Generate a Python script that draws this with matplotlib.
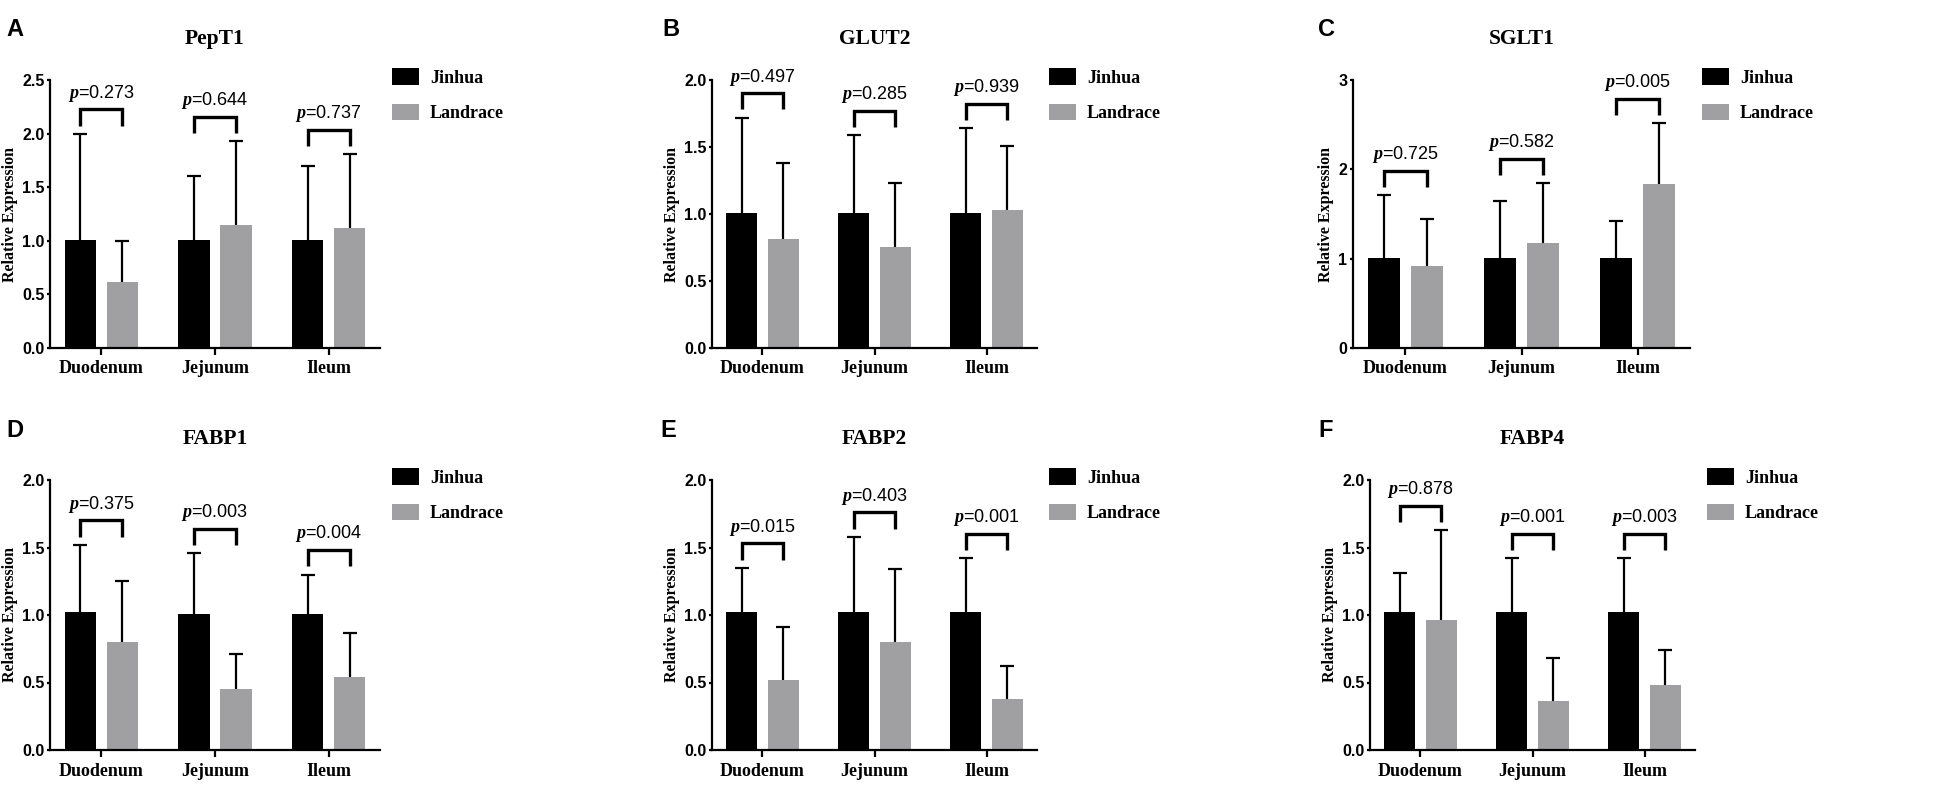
import numpy as np
import matplotlib
matplotlib.use('Agg')
import matplotlib.pyplot as plt
from matplotlib.font_manager import FontProperties, fontManager

# custom mathtext so the "p" in the annotations is a bold italic serif
matplotlib.rcParams['mathtext.fontset'] = 'custom'
matplotlib.rcParams['mathtext.it'] = 'Liberation Serif:italic:bold'

names = set(f.name for f in fontManager.ttflist)
narrow = 'Liberation Sans Narrow' if 'Liberation Sans Narrow' in names else 'Liberation Sans'
print(narrow)
matplotlib.rcParams['mathtext.rm'] = narrow

W, H = 1950, 786

sites = ["Duodenum", "Jejunum", "Ileum"]
breeds = ["Jinhua", "Landrace"]
genes = ["PepT1", "GLUT2", "SGLT1", "FABP1", "FABP2", "FABP4"]
letters = ["A", "B", "C", "D", "E", "F"]

# means and (upper) SD
pept1_jinhua = [1.01, 1.01, 1.01]
pept1_jinhua_sd = [0.99, 0.59, 0.69]
pept1_landrace = [0.62, 1.15, 1.12]
pept1_landrace_sd = [0.38, 0.78, 0.69]
pept1_p = ["0.273", "0.644", "0.737"]

glut2_jinhua = [1.01, 1.01, 1.01]
glut2_jinhua_sd = [0.71, 0.58, 0.63]
glut2_landrace = [0.81, 0.75, 1.03]
glut2_landrace_sd = [0.57, 0.48, 0.48]
glut2_p = ["0.497", "0.285", "0.939"]

sglt1_jinhua = [1.01, 1.01, 1.01]
sglt1_jinhua_sd = [0.70, 0.64, 0.41]
sglt1_landrace = [0.92, 1.18, 1.84]
sglt1_landrace_sd = [0.52, 0.67, 0.68]
sglt1_p = ["0.725", "0.582", "0.005"]

fabp1_jinhua = [1.02, 1.01, 1.01]
fabp1_jinhua_sd = [0.50, 0.45, 0.29]
fabp1_landrace = [0.80, 0.45, 0.54]
fabp1_landrace_sd = [0.45, 0.26, 0.33]
fabp1_p = ["0.375", "0.003", "0.004"]

fabp2_jinhua = [1.02, 1.02, 1.02]
fabp2_jinhua_sd = [0.33, 0.56, 0.40]
fabp2_landrace = [0.52, 0.80, 0.38]
fabp2_landrace_sd = [0.39, 0.54, 0.24]
fabp2_p = ["0.015", "0.403", "0.001"]

fabp4_jinhua = [1.02, 1.02, 1.02]
fabp4_jinhua_sd = [0.29, 0.40, 0.40]
fabp4_landrace = [0.96, 0.36, 0.48]
fabp4_landrace_sd = [0.67, 0.32, 0.26]
fabp4_p = ["0.878", "0.001", "0.003"]

y_max = [2.5, 2.0, 3, 2.0, 2.0, 2.0]
y_step = [0.5, 0.5, 1, 0.5, 0.5, 0.5]

panels = [
    (pept1_jinhua, pept1_jinhua_sd, pept1_landrace, pept1_landrace_sd, pept1_p),
    (glut2_jinhua, glut2_jinhua_sd, glut2_landrace, glut2_landrace_sd, glut2_p),
    (sglt1_jinhua, sglt1_jinhua_sd, sglt1_landrace, sglt1_landrace_sd, sglt1_p),
    (fabp1_jinhua, fabp1_jinhua_sd, fabp1_landrace, fabp1_landrace_sd, fabp1_p),
    (fabp2_jinhua, fabp2_jinhua_sd, fabp2_landrace, fabp2_landrace_sd, fabp2_p),
    (fabp4_jinhua, fabp4_jinhua_sd, fabp4_landrace, fabp4_landrace_sd, fabp4_p),
]

# axes boxes in pixels: left, top, right, bottom
boxes = [(50, 80, 380, 348), (712, 80, 1037, 348), (1353, 80, 1690, 348),
         (50, 480, 380, 750), (712, 480, 1037, 750), (1370, 480, 1695, 750)]
# panel letter positions (x, baseline) in pixels
letter_pos = [(6, 36), (662, 36), (1318, 36), (6, 437), (660, 437), (1318, 437)]

serif_b = dict(fontfamily='Liberation Serif', fontweight='bold')
sans_b = dict(fontfamily='Liberation Sans', fontweight='bold')
narrow_b = dict(fontfamily=narrow, fontweight='bold')

if narrow == 'Liberation Sans Narrow':
    ytick_size, p_size = 13.5, 14
else:
    ytick_size, p_size = 11.5, 13

fig = plt.figure(figsize=(W / 100.0, H / 100.0), dpi=100)

off = 0.185
bw = 0.275
x = np.arange(len(sites))

for k in range(6):
    jm, js, lm, ls, pv = [np.array(v) if i < 4 else v for i, v in enumerate(panels[k])]
    l, t, r, b = boxes[k]
    ax = fig.add_axes([l / W, (H - b) / float(H), (r - l) / float(W), (b - t) / float(H)])

    ax.errorbar(x - off, jm, yerr=js, fmt='none', ecolor='black', elinewidth=1.6,
                capsize=4.8, capthick=1.6, zorder=1)
    ax.errorbar(x + off, lm, yerr=ls, fmt='none', ecolor='black', elinewidth=1.6,
                capsize=4.8, capthick=1.6, zorder=1)
    ax.bar(x - off, jm, bw, color='black', zorder=2, label=breeds[0])
    ax.bar(x + off, lm, bw, color='#a0a0a2', zorder=2, label=breeds[1])

    ym = y_max[k]
    for i in range(len(sites)):
        top = max(jm[i] + js[i], lm[i] + ls[i])
        y0 = top + 0.03 * ym
        y1 = y0 + 0.06 * ym
        ax.plot([x[i] - off, x[i] - off, x[i] + off, x[i] + off], [y0, y1, y1, y0],
                color='black', lw=2.4, solid_joinstyle='miter', solid_capstyle='butt',
                clip_on=False, zorder=3)
        ax.annotate(r'$\it{p}$=' + pv[i], (x[i], y1), xytext=(0, 8.5),
                    textcoords='offset points', ha='center', va='baseline',
                    fontsize=p_size, fontfamily=narrow, annotation_clip=False)

    ax.set_xlim(-0.45, 2.45)
    ax.set_ylim(0, ym)
    ticks = np.arange(0, ym + 1e-9, y_step[k])
    ax.set_yticks(ticks)
    if y_step[k] < 1:
        ax.set_yticklabels(["%.1f" % v for v in ticks], fontsize=ytick_size, **narrow_b)
    else:
        ax.set_yticklabels(["%d" % v for v in ticks], fontsize=ytick_size, **narrow_b)
    ax.set_xticks(x)
    ax.set_xticklabels(sites, fontsize=13, **serif_b)

    for s in ['top', 'right']:
        ax.spines[s].set_visible(False)
    for s in ['left', 'bottom']:
        ax.spines[s].set_linewidth(1.6)
    ax.tick_params(axis='y', length=2.5, width=1.6, pad=1.5)
    ax.tick_params(axis='x', length=5, width=1.6, pad=4)

    ax.set_ylabel("Relative Expression", fontsize=11.5, labelpad=3, **serif_b)
    ax.set_title(genes[k], fontsize=15.5, pad=26, **serif_b)

    wpx, hpx = float(r - l), float(b - t)
    ax.legend(loc='upper left', bbox_to_anchor=(1 + 12 / wpx, 1 + 12 / hpx),
              frameon=False, borderpad=0, borderaxespad=0, handlelength=1.5,
              handleheight=1.05, handletextpad=0.6, labelspacing=0.95,
              prop=FontProperties(family='Liberation Serif', weight='bold', size=13))

    lx, ly = letter_pos[k]
    fig.text(lx / float(W), 1 - ly / float(H), letters[k], fontsize=17,
             va='baseline', ha='left', **sans_b)

plt.savefig('out.png', dpi=100)
